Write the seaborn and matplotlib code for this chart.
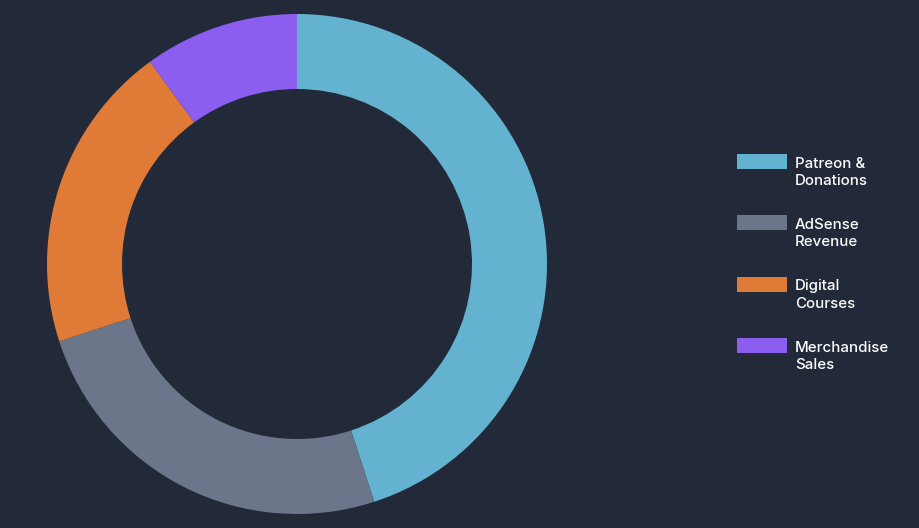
import textwrap
import matplotlib
matplotlib.use("Agg")
import matplotlib.pyplot as plt
from matplotlib.patches import Rectangle
import seaborn as sns

# revenue mix, percent of total
sources = ["Patreon & Donations", "AdSense Revenue", "Digital Courses", "Merchandise Sales"]
shares = [45, 25, 20, 10]
colors = ["#63b3d0", "#6b768b", "#df7b36", "#8b5ef0"]

bg = "#222938"

sns.set_theme(style="white")
plt.rcParams["font.family"] = ["Inter", "DejaVu Sans"]

W, H = 920, 528
fig = plt.figure(figsize=(W / 100, H / 100), dpi=100, facecolor=bg)

# donut: centre (297, 264) px, radius 250 px
cx, cy, r = 297, 264, 250
ax = fig.add_axes([(cx - r) / W, (H - cy - r) / H, 2 * r / W, 2 * r / H])
ax.set_facecolor(bg)
wedges, _ = ax.pie(shares, colors=colors, startangle=90, counterclock=False,
                   radius=1, wedgeprops=dict(width=0.3, linewidth=0))
ax.set_xlim(-1, 1)
ax.set_ylim(-1, 1)
ax.set_aspect("equal")
ax.axis("off")

# legend on the right
for i, (name, col) in enumerate(zip(sources, colors)):
    top = 154 + i * 61.3
    fig.patches.append(Rectangle((737 / W, 1 - (top + 15) / H), 50 / W, 15 / H,
                                 transform=fig.transFigure, facecolor=col,
                                 edgecolor="none"))
    # va=baseline anchors the last line
    fig.text(795 / W, 1 - (top + 31) / H, textwrap.fill(name, 11),
             color="#ffffff", fontsize=10.8, fontweight="medium",
             va="baseline", ha="left", linespacing=1.29)

fig.savefig("out.png", dpi=100, facecolor=bg)
